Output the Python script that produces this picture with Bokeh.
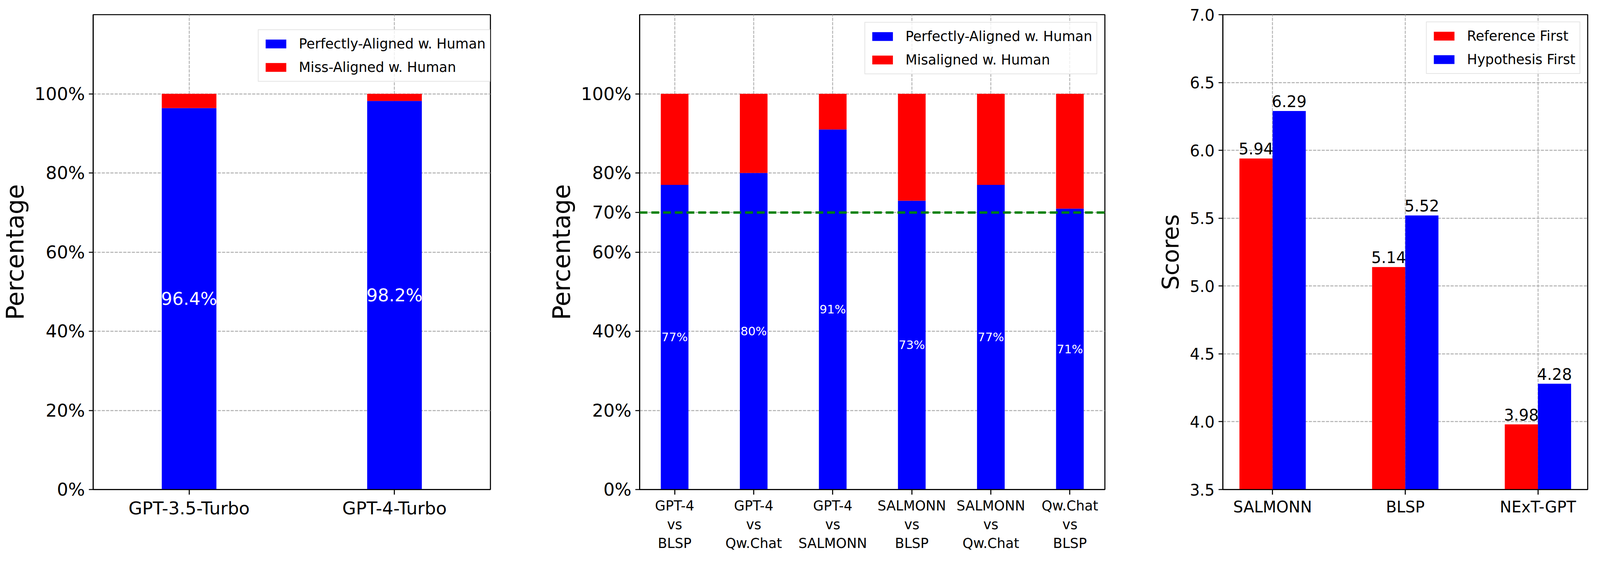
from bokeh.plotting import figure
from bokeh.layouts import row
from bokeh.models import Range1d, FixedTicker, PrintfTickFormatter, Legend, LegendItem, Span, ColumnDataSource
from bokeh.core.properties import value
from bokeh.embed import file_html
from bokeh.resources import INLINE

FONT = "DejaVu Sans"
SX = 0.828  # horizontal pixel scale (visible viewport is narrower than the reference)
SF = 0.87   # font scale


def hx(v):
    return int(round(v * SX))


def fs(v):
    return f"{v * SF:.1f}px"


# ---------------- data ----------------
# Panel 1: judge agreement with human
judges = ["GPT-3.5-Turbo", "GPT-4-Turbo"]
judge_aligned = [96.4, 98.2]

# Panel 2: pairwise comparisons
pairs = ["GPT-4\nvs\nBLSP", "GPT-4\nvs\nQw.Chat", "GPT-4\nvs\nSALMONN",
         "SALMONN\nvs\nBLSP", "SALMONN\nvs\nQw.Chat", "Qw.Chat\nvs\nBLSP"]
pair_aligned = [77, 80, 91, 73, 77, 71]
threshold = 70

# Panel 3: position-order scores
models = ["SALMONN", "BLSP", "NExT-GPT"]
ref_first = [5.94, 5.14, 3.98]
hyp_first = [6.29, 5.52, 4.28]


def style(p, tick_px, xtick_px=None):
    p.outline_line_color = "black"
    p.outline_line_width = 2.7
    p.background_fill_color = "white"
    for ax in (p.xaxis, p.yaxis):
        ax.axis_line_color = "black"
        ax.axis_line_width = 2.7
        ax.major_tick_line_color = "black"
        ax.major_tick_line_width = 2.7
        ax.major_tick_in = 0
        ax.minor_tick_line_color = None
        ax.major_label_text_font = FONT
        ax.major_label_text_color = "black"
        ax.axis_label_text_font = FONT
        ax.axis_label_text_font_style = "normal"
        ax.axis_label_text_color = "black"
    p.xaxis.major_tick_out = 13
    p.yaxis.major_tick_out = 11
    p.yaxis.major_label_text_font_size = fs(tick_px)
    p.xaxis.major_label_text_font_size = fs(xtick_px or tick_px)
    p.yaxis.major_label_standoff = 10
    p.xaxis.major_label_standoff = 8
    p.grid.grid_line_color = "#b0b0b0"
    p.grid.grid_line_width = 2.3
    p.grid.grid_line_dash = "8 3"


def make_legend(p, items, loc, margin=0):
    lg = Legend(items=items, location=loc)
    lg.label_text_font = FONT
    lg.label_text_font_size = fs(40)
    lg.label_text_color = "black"
    lg.glyph_width = hx(80)
    lg.glyph_height = 28
    lg.label_standoff = hx(32)
    lg.label_height = 48
    lg.spacing = 12
    lg.padding = 11
    lg.margin = margin
    lg.border_line_color = "#cccccc"
    lg.border_line_width = 2
    lg.background_fill_alpha = 0.8
    p.add_layout(lg)


# ---------------- panel 1 ----------------
x1 = list(range(len(judges)))
miss1 = [100 - a for a in judge_aligned]
p1 = figure(width=hx(1642), height=1427, x_range=Range1d(-0.467, 1.467), y_range=Range1d(0, 120),
            output_backend="svg", toolbar_location=None,
            min_border_left=hx(287), min_border_right=hx(127), min_border_top=37, min_border_bottom=170)
style(p1, 52)
s1 = ColumnDataSource(dict(x=x1, a=judge_aligned, m=[a + m for a, m in zip(judge_aligned, miss1)],
                           ym=[a / 2 for a in judge_aligned], t=[f"{a}%" for a in judge_aligned]))
r1a = p1.vbar(x="x", top="a", bottom=0, width=0.266, source=s1, fill_color="blue", line_color=None)
r1b = p1.vbar(x="x", top="m", bottom="a", width=0.266, source=s1, fill_color="red", line_color=None)
p1.text(x="x", y="ym", text="t", source=s1, text_font=value(FONT), text_font_size=value(fs(52)),
        text_color="white", text_align="center", text_baseline="middle")
p1.xaxis.ticker = FixedTicker(ticks=x1)
p1.xaxis.major_label_overrides = {i: n for i, n in enumerate(judges)}
p1.yaxis.ticker = FixedTicker(ticks=[0, 20, 40, 60, 80, 100])
p1.yaxis.formatter = PrintfTickFormatter(format="%d%%")
p1.yaxis.axis_label = "Percentage"
p1.yaxis.axis_label_text_font_size = fs(71)
p1.yaxis.axis_label_standoff = 10
make_legend(p1, [LegendItem(label="Perfectly-Aligned w. Human", renderers=[r1a]),
                 LegendItem(label="Miss-Aligned w. Human", renderers=[r1b])], (hx(510), 1043))

# ---------------- panel 2 ----------------
x2 = list(range(len(pairs)))
miss2 = [100 - a for a in pair_aligned]
p2 = figure(width=hx(1850), height=1427, x_range=Range1d(-0.4425, 5.4425), y_range=Range1d(0, 120),
            output_backend="svg", toolbar_location=None,
            min_border_left=hx(335), min_border_right=hx(77), min_border_top=33, min_border_bottom=175)
style(p2, 52, 40)
s2 = ColumnDataSource(dict(x=x2, a=pair_aligned, m=[a + m for a, m in zip(pair_aligned, miss2)],
                           ym=[a / 2 for a in pair_aligned], t=[f"{a}%" for a in pair_aligned]))
r2a = p2.vbar(x="x", top="a", bottom=0, width=0.35, source=s2, fill_color="blue", line_color=None)
r2b = p2.vbar(x="x", top="m", bottom="a", width=0.35, source=s2, fill_color="red", line_color=None)
p2.text(x="x", y="ym", text="t", source=s2, text_font=value(FONT), text_font_size=value(fs(35)),
        text_color="white", text_align="center", text_baseline="middle")
p2.add_layout(Span(location=threshold, dimension="width", line_color="green",
                   line_width=6, line_dash="20 10"))
p2.xaxis.ticker = FixedTicker(ticks=x2)
p2.xaxis.major_label_overrides = {i: n for i, n in enumerate(pairs)}
p2.yaxis.ticker = FixedTicker(ticks=[0, 20, 40, 60, 70, 80, 100])
p2.yaxis.formatter = PrintfTickFormatter(format="%d%%")
p2.yaxis.axis_label = "Percentage"
p2.yaxis.axis_label_text_font_size = fs(71)
p2.yaxis.axis_label_standoff = 10
make_legend(p2, [LegendItem(label="Perfectly-Aligned w. Human", renderers=[r2a]),
                 LegendItem(label="Misaligned w. Human", renderers=[r2b])], "top_right", margin=19)

# ---------------- panel 3 ----------------
x3 = list(range(len(models)))
p3 = figure(width=hx(1432), height=1427, x_range=Range1d(-0.375, 2.375), y_range=Range1d(3.5, 7.0),
            output_backend="svg", toolbar_location=None,
            min_border_left=hx(288), min_border_right=hx(17), min_border_top=33, min_border_bottom=174)
style(p3, 46)
s3 = ColumnDataSource(dict(xr=[i - 0.125 for i in x3], xh=[i + 0.125 for i in x3],
                           r=ref_first, h=hyp_first,
                           tr=[f"{v:.2f}" for v in ref_first], th=[f"{v:.2f}" for v in hyp_first]))
r3a = p3.vbar(x="xr", top="r", bottom=3.5, width=0.25, source=s3, fill_color="red", line_color=None)
r3b = p3.vbar(x="xh", top="h", bottom=3.5, width=0.25, source=s3, fill_color="blue", line_color=None)
for xc, yc, tc in (("xr", "r", "tr"), ("xh", "h", "th")):
    p3.text(x=xc, y=yc, text=tc, source=s3, text_font=value(FONT), text_font_size=value(fs(46)),
            text_color="black", text_align="center", text_baseline="bottom", y_offset=-10)
p3.xaxis.ticker = FixedTicker(ticks=x3)
p3.xaxis.major_label_overrides = {i: n for i, n in enumerate(models)}
p3.yaxis.ticker = FixedTicker(ticks=[3.5, 4.0, 4.5, 5.0, 5.5, 6.0, 6.5, 7.0])
p3.yaxis.formatter = PrintfTickFormatter(format="%.1f")
p3.yaxis.axis_label = "Scores"
p3.yaxis.axis_label_text_font_size = fs(67)
p3.yaxis.axis_label_standoff = 12
make_legend(p3, [LegendItem(label="Reference First", renderers=[r3a]),
                 LegendItem(label="Hypothesis First", renderers=[r3b])], "top_right", margin=18)

layout = row(p1, p2, p3, spacing=0)
open("out.html", "w").write(file_html(layout, INLINE))
